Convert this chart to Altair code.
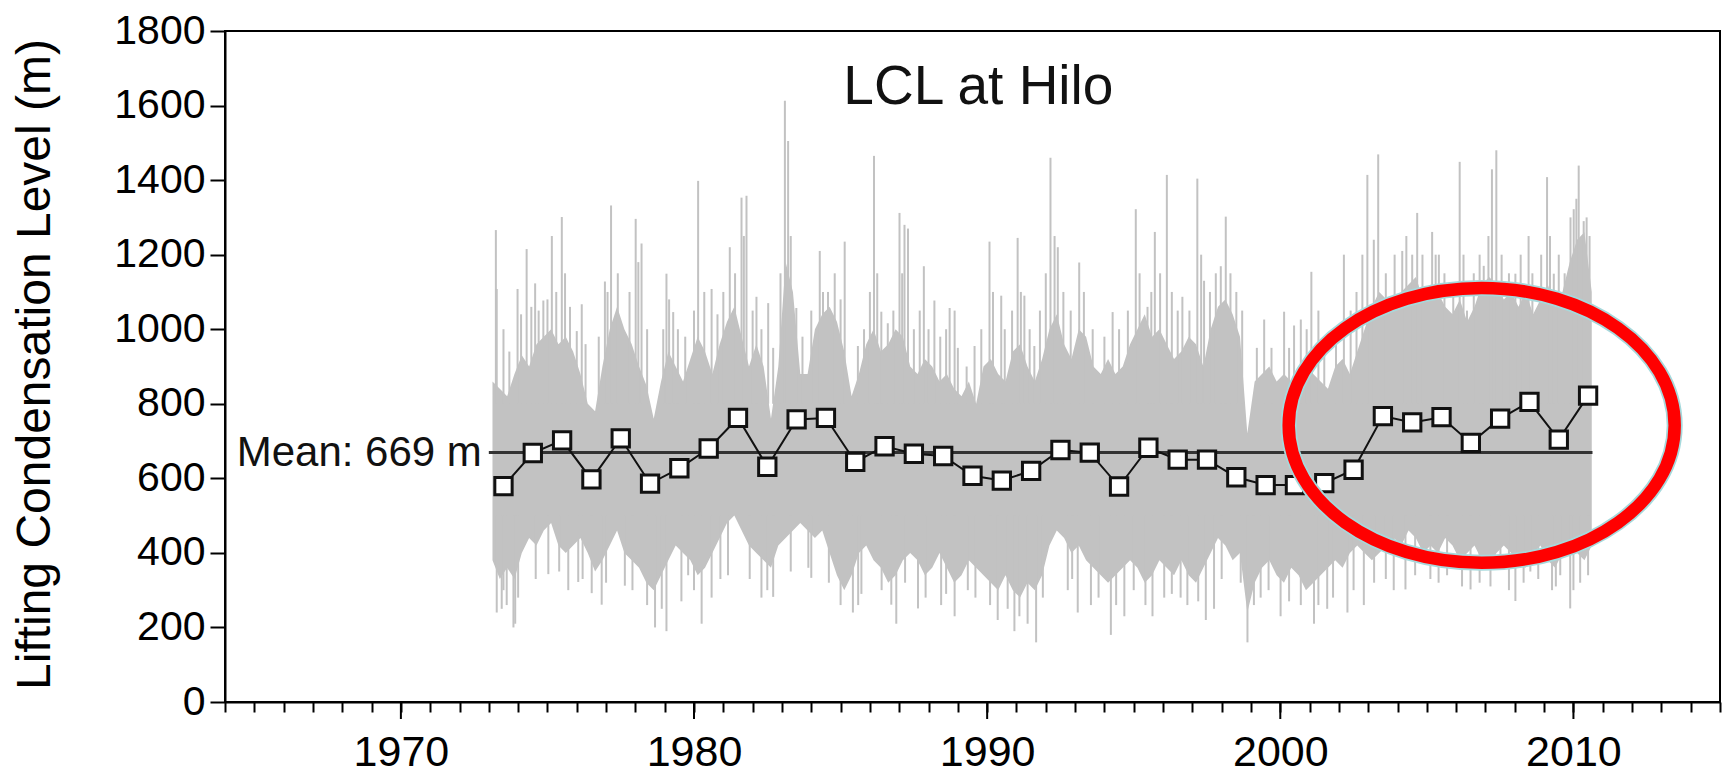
import altair as alt
import pandas as pd

FONT = "Liberation Sans, Arial, sans-serif"
GRAY = "#c2c2c2"

# ---- annual means (square markers) ----
ANNUAL_T = [1973.5, 1974.5, 1975.5, 1976.5, 1977.5, 1978.5, 1979.5, 1980.5, 1981.5, 1982.5,
            1983.5, 1984.5, 1985.5, 1986.5, 1987.5, 1988.5, 1989.5, 1990.5, 1991.5, 1992.5,
            1993.5, 1994.5, 1995.5, 1996.5, 1997.5, 1998.5, 1999.5, 2000.5, 2001.5, 2002.5,
            2003.5, 2004.5, 2005.5, 2006.5, 2007.5, 2008.5, 2009.5, 2010.5]
ANNUAL_V = [579, 668, 702, 597, 707, 586, 627, 680, 762, 631,
            758, 762, 644, 686, 666, 660, 607, 594, 620, 676,
            669, 578, 682, 650, 650, 603, 582, 582, 587, 623,
            767, 750, 764, 695, 760, 805, 704, 822]

MEAN_VALUE = 669
MEAN_SPAN = [1973.0, 2010.65]
MEAN_LABEL = "Mean: 669 m"

# ---- dense daily band: quarterly upper / lower envelope of the grey body ----
BODY_HI = {
    1973: [860, 840, 820, 880], 1974: [930, 900, 960, 980], 1975: [1000, 960, 980, 940],
    1976: [880, 800, 780, 900], 1977: [1000, 1060, 1000, 960], 1978: [900, 850, 760, 860],
    1979: [940, 900, 860, 920], 1980: [980, 940, 880, 960], 1981: [1020, 1060, 980, 900],
    1982: [960, 900, 760, 900], 1983: [1180, 1100, 880, 880], 1984: [1000, 1040, 1060, 1020],
    1985: [940, 820, 880, 960], 1986: [1000, 940, 960, 1000], 1987: [980, 900, 880, 920],
    1988: [900, 860, 880, 840], 1989: [820, 860, 800, 900], 1990: [920, 880, 860, 940],
    1991: [960, 900, 860, 920], 1992: [1000, 1040, 960, 920], 1993: [1000, 980, 900, 880],
    1994: [920, 880, 900, 960], 1995: [1000, 1040, 980, 1000], 1996: [960, 920, 940, 980],
    1997: [960, 900, 1000, 1060], 1998: [1080, 1040, 980, 720], 1999: [860, 880, 900, 860],
    2000: [880, 860, 900, 920], 2001: [880, 860, 840, 900], 2002: [920, 880, 940, 1000],
    2003: [1060, 1100, 1080, 1060], 2004: [1100, 1120, 1140, 1080], 2005: [1120, 1100, 1060, 1040],
    2006: [1080, 1020, 1060, 1120], 2007: [1140, 1120, 1080, 1100], 2008: [1060, 1100, 1040, 1080],
    2009: [1120, 1060, 1100, 1180], 2010: [1240, 1260, 1100],
}
BODY_LO = {
    1973: [380, 330, 360, 330], 1974: [400, 440, 420, 460], 1975: [480, 420, 400, 420],
    1976: [440, 400, 350, 380], 1977: [420, 460, 400, 380], 1978: [360, 320, 300, 340],
    1979: [380, 420, 400, 380], 1980: [340, 360, 400, 440], 1981: [480, 500, 460, 420],
    1982: [400, 380, 360, 420], 1983: [440, 460, 480, 460], 1984: [440, 460, 400, 340],
    1985: [300, 340, 400, 420], 1986: [380, 360, 320, 340], 1987: [380, 400, 380, 340],
    1988: [360, 400, 360, 320], 1989: [340, 380, 360, 340], 1990: [320, 300, 340, 300],
    1991: [280, 320, 300, 340], 1992: [420, 460, 440, 400], 1993: [420, 380, 360, 340],
    1994: [320, 340, 360, 380], 1995: [360, 320, 340, 380], 1996: [360, 340, 380, 340],
    1997: [320, 360, 400, 440], 1998: [420, 380, 400, 240], 1999: [320, 360, 380, 340],
    2000: [320, 360, 340, 300], 2001: [320, 340, 360, 380], 2002: [360, 400, 420, 400],
    2003: [380, 400, 420, 440], 2004: [420, 460, 440, 400], 2005: [420, 400, 440, 420],
    2006: [380, 400, 420, 380], 2007: [360, 400, 420, 400], 2008: [380, 360, 400, 420],
    2009: [380, 360, 400, 420], 2010: [400, 380, 420],
}

# ---- individual daily spikes above / below the body ----
SPIKE_UP_T = [1973.24, 1973.27, 1973.98, 1974.29, 1974.58, 1974.86, 1975.15, 1975.49, 1975.77, 1976.00,
              1976.17, 1976.96, 1977.17, 1978.01, 1978.21, 1979.06, 1979.29, 1980.14, 1980.60, 1981.22,
              1981.62, 1981.79, 1982.13, 1982.53, 1983.10, 1983.21, 1983.49, 1984.29, 1984.57, 1985.14,
              1985.59, 1986.14, 1986.39, 1986.61, 1987.01, 1987.18, 1987.30, 1987.84, 1988.20, 1988.72,
              1988.89, 1989.57, 1990.08, 1990.48, 1991.04, 1991.27, 1991.61, 1992.16, 1992.41, 1993.14,
              1994.28, 1995.07, 1995.47, 1995.72, 1996.13, 1996.66, 1997.17, 1997.40, 1997.97, 1998.14,
              1999.45, 2000.13, 2000.47, 2000.70, 2001.06, 2002.17, 2002.97, 2003.19, 2003.34, 2004.16,
              2004.67, 2005.18, 2005.41, 2006.12, 2006.37, 2006.94, 2007.22, 2007.37, 2008.02, 2008.47,
              2009.10, 2009.33, 2010.01, 2010.18, 2010.35]
SPIKE_UP_V = [1266, 1108, 1108, 1215, 1123, 1077, 1250, 1301, 1060, 995,
              1067, 1128, 1332, 1296, 1230, 1149, 1046, 1398, 1108, 1220,
              1353, 1358, 1087, 1070, 1613, 1505, 1057, 1210, 1100, 1235,
              955, 1465, 1047, 1016, 1312, 1280, 1270, 1169, 1077, 1057,
              1050, 955, 1235, 1090, 1245, 1090, 955, 1460, 1220, 1179,
              1046, 1322, 1060, 1261, 1414, 1087, 1404, 1130, 1169, 1302,
              1026, 1047, 1010, 1026, 1154, 1200, 1414, 1240, 1469, 1210,
              1312, 1261, 1200, 1449, 1050, 1170, 1429, 1480, 1149, 1250,
              1408, 1149, 1322, 1439, 1290]
# medium-height spikes that give the band its ragged top
SPIKE_MID_T = [1973.5, 1973.7, 1974.1, 1974.45, 1974.7, 1975.0, 1975.3, 1975.6, 1976.3, 1976.75,
               1977.05, 1977.4, 1977.8, 1978.1, 1978.4, 1978.95, 1979.15, 1979.45, 1979.7, 1980.0,
               1980.35, 1980.8, 1981.0, 1981.4, 1981.7, 1982.0, 1982.3, 1982.7, 1982.95, 1983.3,
               1983.7, 1984.0, 1984.4, 1984.8, 1985.0, 1985.8, 1986.0, 1986.25, 1986.8, 1987.1,
               1987.5, 1987.7, 1988.0, 1988.4, 1988.6, 1989.0, 1989.3, 1989.8, 1990.2, 1990.6,
               1990.85, 1991.15, 1991.45, 1991.8, 1992.0, 1992.3, 1992.6, 1992.85, 1993.3, 1993.6,
               1994.0, 1994.5, 1994.8, 1995.2, 1995.6, 1995.9, 1996.3, 1996.5, 1996.9, 1997.3,
               1997.6, 1997.8, 1998.3, 1998.5, 1998.7, 1999.2, 1999.7, 2000.3, 2000.9, 2001.3,
               2001.5, 2001.9, 2002.4, 2002.6, 2002.8, 2003.6, 2003.9, 2004.3, 2004.5, 2004.85,
               2005.3, 2005.6, 2005.9, 2006.25, 2006.6, 2006.8, 2007.1, 2007.55, 2007.8, 2008.2,
               2008.6, 2008.9, 2009.2, 2009.5, 2009.7, 2009.9, 2010.1, 2010.45, 2010.55]
SPIKE_MID_V = [1000, 940, 1040, 1060, 1050, 1080, 1100, 1150, 960, 980,
               1100, 1150, 1100, 1180, 1000, 1000, 1080, 1000, 980, 1050,
               1100, 1040, 1100, 1150, 1250, 1050, 1000, 950, 1150, 1250,
               980, 1050, 1100, 1150, 1080, 1000, 1100, 1150, 1050, 1150,
               1000, 1050, 1000, 980, 1000, 950, 900, 1000, 1100, 1000,
               1050, 1100, 1000, 1050, 1150, 1250, 1100, 1050, 1100, 1000,
               980, 1000, 1050, 1150, 1100, 1150, 1100, 1050, 1050, 1200,
               1100, 1150, 1150, 1100, 1050, 950, 950, 950, 1000, 1050,
               950, 1000, 1050, 1100, 1200, 1150, 1200, 1250, 1200, 1200,
               1200, 1150, 1100, 1200, 1150, 1200, 1250, 1200, 1150, 1200,
               1150, 1200, 1250, 1200, 1150, 1300, 1350, 1300, 1250]
SPIKE_DN_T = [1973.27, 1973.44, 1973.61, 1973.84, 1973.90, 1975.03, 1975.71, 1976.05, 1976.51, 1976.85,
              1977.64, 1978.67, 1979.06, 1979.57, 1979.80, 1980.26, 1980.60, 1981.16, 1982.30, 1982.70,
              1984.00, 1985.42, 1985.71, 1986.73, 1986.90, 1987.64, 1988.43, 1988.89, 1989.34, 1990.36,
              1990.93, 1991.38, 1991.67, 1992.75, 1993.09, 1993.54, 1994.22, 1994.68, 1995.64, 1996.04,
              1996.83, 1997.46, 1997.74, 1998.65, 1998.88, 1999.33, 2000.01, 2001.15, 2001.60, 2002.29,
              2002.85, 2003.87, 2004.27, 2005.12, 2005.69, 2006.49, 2007.17, 2007.51, 2008.02, 2008.53,
              2009.27, 2009.55, 2009.89, 2010.23]
SPIKE_DN_V = [240, 250, 260, 200, 210, 343, 300, 322, 292, 261,
              312, 200, 190, 270, 340, 210, 280, 340, 280, 282,
              333, 240, 290, 261, 210, 251, 260, 230, 300, 220,
              190, 210, 160, 300, 240, 260, 180, 230, 230, 280,
              260, 220, 250, 320, 160, 280, 230, 210, 250, 240,
              260, 300, 302, 330, 340, 302, 310, 380, 271, 350,
              300, 340, 251, 320]
SPIKE_LOWMID_T = [1973.5, 1974.0, 1974.6, 1975.4, 1976.2, 1977.0, 1977.9, 1978.4, 1978.9, 1980.0,
                  1980.9, 1981.9, 1982.5, 1983.3, 1983.9, 1984.6, 1985.0, 1985.6, 1986.4, 1987.2,
                  1987.9, 1988.6, 1989.6, 1990.1, 1990.7, 1991.1, 1991.9, 1992.9, 1993.8, 1994.4,
                  1995.0, 1995.4, 1996.3, 1996.6, 1997.2, 1998.0, 1999.1, 1999.6, 2000.3, 2000.7,
                  2001.3, 2001.8, 2002.5, 2003.2, 2003.6, 2004.6, 2005.4, 2006.2, 2006.8, 2007.8,
                  2008.3, 2008.8, 2009.4, 2010.0, 2010.5]
SPIKE_LOWMID_V = [300, 280, 330, 350, 330, 320, 300, 260, 250, 300,
                  330, 330, 300, 350, 360, 320, 260, 260, 300, 320,
                  280, 290, 280, 260, 250, 230, 280, 330, 280, 260,
                  300, 260, 290, 280, 270, 330, 260, 300, 270, 260,
                  260, 280, 300, 320, 330, 340, 320, 310, 320, 300,
                  320, 330, 310, 300, 340]

# ---- axes ----
X_DOMAIN = [1964, 2015]
Y_DOMAIN = [0, 1800]
X_TICKS = list(range(1964, 2016))
DECADES = [1970, 1980, 1990, 2000, 2010]
Y_TICKS = [0, 200, 400, 600, 800, 1000, 1200, 1400, 1600, 1800]
Y_TITLE = "Lifting Condensation Level (m)"

TITLE = "LCL at Hilo"
TITLE_POS = [1989.7, 1650]
ELLIPSE_CENTER = [2006.87, 742]

PLOT_W, PLOT_H = 1495, 671
MINOR_TICK, MAJOR_TICK = 10, 17

# ---------------- build tables ----------------
body_rows = []
for yr, his in BODY_HI.items():
    for q, (h, l) in enumerate(zip(his, BODY_LO[yr])):
        body_rows.append({"t": yr + (q + 0.5) / 4, "v": l, "hi": h})
body_df = pd.DataFrame(body_rows)
up_df = pd.DataFrame({"t": SPIKE_UP_T + SPIKE_MID_T, "v": SPIKE_UP_V + SPIKE_MID_V})
dn_df = pd.DataFrame({"t": SPIKE_DN_T + SPIKE_LOWMID_T, "v": SPIKE_DN_V + SPIKE_LOWMID_V})
annual_df = pd.DataFrame({"t": ANNUAL_T, "v": ANNUAL_V})
mean_df = pd.DataFrame({"t": [MEAN_SPAN[0]], "t1": [MEAN_SPAN[1]], "v": [MEAN_VALUE], "label": [MEAN_LABEL]})
title_df = pd.DataFrame({"t": [TITLE_POS[0]], "v": [TITLE_POS[1]], "label": [TITLE]})
ell_df = pd.DataFrame({"t": [ELLIPSE_CENTER[0]], "v": [ELLIPSE_CENTER[1]]})
dec_df = pd.DataFrame({"t": DECADES})

xs = alt.Scale(domain=X_DOMAIN, nice=False, zero=False)
ys = alt.Scale(domain=Y_DOMAIN, nice=False)

dec_test = "indexof(" + str(DECADES) + ", datum.value) >= 0"
x_axis = alt.Axis(
    values=X_TICKS, title=None, grid=False,
    labelExpr=dec_test + " ? toString(datum.value) : ''",
    tickSize=MINOR_TICK,
    labelFontSize=43, labelPadding=19, labelFlush=False, labelOverlap=False,
    labelFont=FONT, labelColor="black",
    domainColor="black", domainWidth=2, tickColor="black", tickWidth=2,
)
y_axis = alt.Axis(
    values=Y_TICKS, title=Y_TITLE, grid=False, format="d",
    tickSize=15, labelFontSize=41, labelPadding=5, labelFont=FONT, labelColor="black",
    titleFont=FONT, titleFontSize=48, titleFontWeight="normal", titleColor="black",
    titleX=-190, titleY=333, titleBaseline="middle", titleAlign="center", titleAngle=270,
    domainColor="black", domainWidth=2, tickColor="black", tickWidth=2,
)


def X():
    return alt.X("t:Q", scale=xs, axis=x_axis)


def Y():
    return alt.Y("v:Q", scale=ys, axis=y_axis)


body = alt.Chart(body_df).mark_area(color=GRAY, opacity=1).encode(
    x=X(), y=Y(), y2="hi:Q")
up = alt.Chart(up_df).mark_rule(color=GRAY, strokeWidth=2).encode(
    x=X(), y=Y(), y2=alt.datum(800))
dn = alt.Chart(dn_df).mark_rule(color=GRAY, strokeWidth=2).encode(
    x=X(), y=Y(), y2=alt.datum(500))

# longer ticks at the decades (drawn just below the x axis)
major = alt.Chart(dec_df).mark_rule(color="black", strokeWidth=2, clip=False).encode(
    x=X(), y=alt.value(PLOT_H), y2=alt.value(PLOT_H + MAJOR_TICK))

mean_line = alt.Chart(mean_df).mark_rule(color="#333333", strokeWidth=3).encode(
    x=X(), x2="t1:Q", y=Y())
mean_text = alt.Chart(mean_df).mark_text(
    align="right", baseline="middle", dx=-7, fontSize=42, font=FONT, color="#111111"
).encode(x=X(), y=Y(), text="label:N")

ann_line = alt.Chart(annual_df).mark_line(color="#111111", strokeWidth=2).encode(x=X(), y=Y())
ann_pts = alt.Chart(annual_df).mark_point(
    shape="square", filled=True, fill="white", stroke="#111111", strokeWidth=3,
    size=300, opacity=1,
).encode(x=X(), y=Y())

title = alt.Chart(title_df).mark_text(
    align="center", baseline="middle", fontSize=55, font=FONT, color="#111111"
).encode(x=X(), y=Y(), text="label:N")

ELL_PATH = "M -1 0 A 1 0.712 0 1 0 1 0 A 1 0.712 0 1 0 -1 0 Z"
ell_halo = alt.Chart(ell_df).mark_point(
    shape=ELL_PATH, filled=False, stroke="#a6d9dc", strokeWidth=16, size=386 * 386, opacity=1
).encode(x=X(), y=Y())
ell = alt.Chart(ell_df).mark_point(
    shape=ELL_PATH, filled=False, stroke="#ff0000", strokeWidth=12.5, size=386 * 386, opacity=1
).encode(x=X(), y=Y())

chart = alt.layer(
    body, up, dn, major, mean_line, mean_text, ann_line, ann_pts, title, ell_halo, ell
).properties(
    width=PLOT_W, height=PLOT_H,
    autosize=alt.AutoSizeParams(type="none"),
    padding={"left": 217, "top": 23, "right": 3, "bottom": 76},
    background="white",
).configure_view(stroke="black", strokeWidth=2)

chart.save("out.html", embed_options={"renderer": "svg", "actions": False})
